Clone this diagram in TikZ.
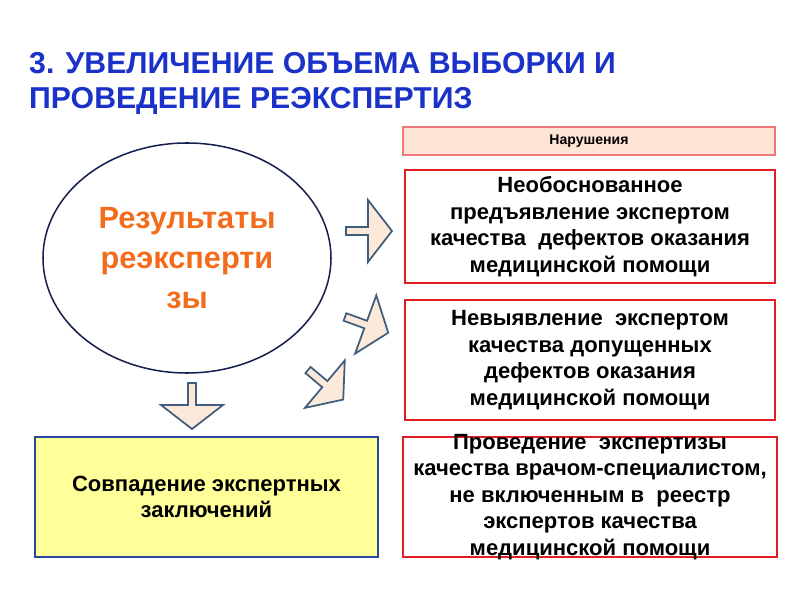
\documentclass[tikz,border=0pt]{standalone}
\usepackage{fontspec}
\setmainfont{Liberation Sans}
\usepackage{xcolor}
\usetikzlibrary{shapes.geometric}

\definecolor{titleblue}{RGB}{26,50,200}
\definecolor{resorange}{RGB}{242,108,28}
\definecolor{ringnavy}{RGB}{22,32,80}
\definecolor{boxred}{RGB}{226,30,36}
\definecolor{hdrred}{RGB}{236,120,120}
\definecolor{hdrfill}{RGB}{253,228,212}
\definecolor{yelfill}{RGB}{255,255,153}
\definecolor{yelblue}{RGB}{40,70,160}
\definecolor{arrfill}{RGB}{253,233,218}
\definecolor{arrline}{RGB}{64,94,126}

\newcommand{\boxfont}{\fontsize{18.8}{22.6}\selectfont\bfseries}

\begin{document}
\begin{tikzpicture}[x=0.03cm, y=-0.03cm,
  redbox/.style={draw=boxred, line width=1.6pt, fill=white, minimum width=11.1cm,
    inner sep=0pt, align=center, font=\boxfont},
  boxtext/.style={inner sep=0pt, align=center, font=\boxfont},
  blockarr/.style={draw=arrline, fill=arrfill, line width=1.5pt, line join=miter}]
\useasboundingbox (0,0) rectangle (800,600);

% heading
\node[anchor=north west, inner sep=0pt, align=left, text=titleblue,
  font=\fontsize{25.8}{30.2}\selectfont\bfseries] (title) at (29,52)
  {3. УВЕЛИЧЕНИЕ ОБЪЕМА ВЫБОРКИ И\\ПРОВЕДЕНИЕ РЕЭКСПЕРТИЗ};

% results oval
\node[ellipse, draw=ringnavy, line width=1.3pt, minimum width=8.64cm, minimum height=6.9cm,
  inner sep=0pt, align=center, text=resorange,
  font=\fontsize{26.2}{34}\selectfont\bfseries] (res) at (187,258)
  {Результаты\\реэксперти\\зы};

% violations column
\node[draw=hdrred, line width=1pt, fill=hdrfill, minimum width=11.16cm, minimum height=0.84cm,
  inner sep=0pt, font=\fontsize{12}{14}\selectfont\bfseries] (hdr) at (589,141) {Нарушения};
\node[redbox, minimum height=3.39cm] (b1) at (590,226.5)
  {Необоснованное\\предъявление экспертом\\качества~ дефектов оказания\\медицинской помощи};
\node[redbox, minimum height=3.6cm] (b2) at (590,360)
  {Невыявление~ экспертом\\качества допущенных\\дефектов оказания\\медицинской помощи};
\node[redbox, minimum width=11.22cm, minimum height=3.6cm] (b3) at (590,497) {};
\node[boxtext] (t3) at (b3)
  {Проведение~ экспертизы\\качества врачом-специалистом,\\не включенным в~ реестр\\экспертов качества\\медицинской помощи};

% matching conclusions
\node[draw=yelblue, line width=1.6pt, fill=yelfill, minimum width=10.29cm, minimum height=3.6cm,
  inner sep=0pt, align=center, font=\boxfont] (same) at (206.5,497)
  {Совпадение экспертных\\заключений};

% block arrows
\foreach \px/\py/\ang in {346/231/0, 345/317/-20, 308/370/-40, 192/383/-90}{
  \draw[blockarr, shift={(\px,\py)}, rotate=\ang]
    (0,-4) -- (22,-4) -- (22,-31) -- (46,0) -- (22,31) -- (22,4) -- (0,4) -- cycle;
}
\end{tikzpicture}
\end{document}
